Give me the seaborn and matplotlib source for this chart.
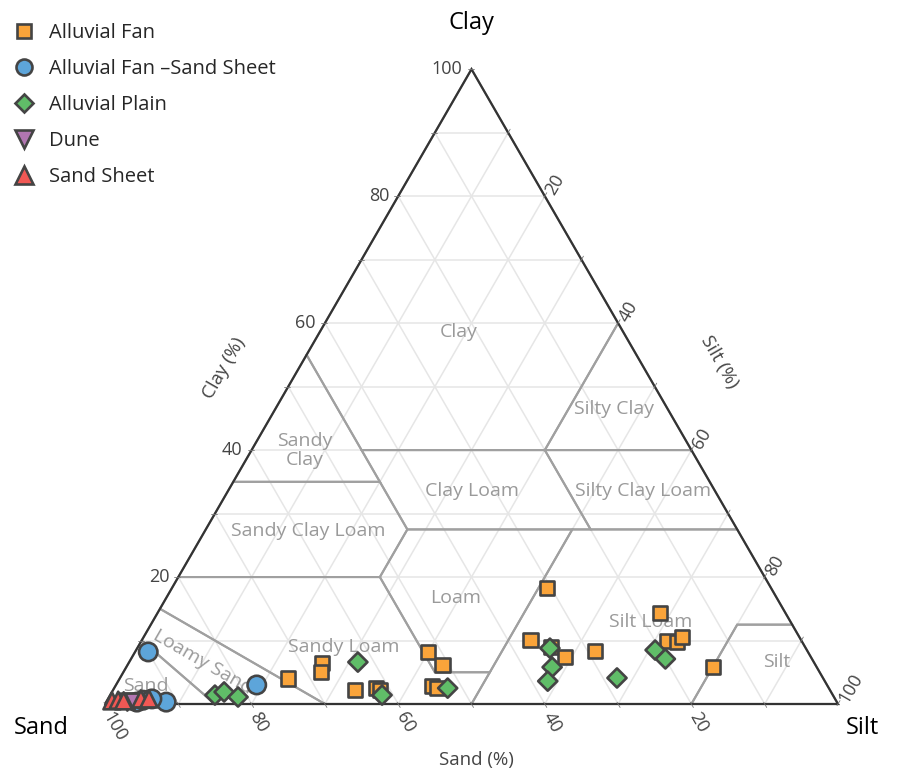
import numpy as np
import pandas as pd
import matplotlib
matplotlib.use("Agg")
import matplotlib.pyplot as plt
from matplotlib.lines import Line2D
import seaborn as sns

# ---- sample compositions (percent sand / silt / clay) ----
fan_sand = [73.0, 67.1, 68.0, 64.8, 61.8, 61.4, 51.8, 50.9, 54.0, 53.5,
            30.5, 36.9, 34.7, 33.5, 29.0, 17.1, 18.3, 17.1, 16.0, 14.2]
fan_silt = [23.0, 26.4, 27.0, 33.0, 35.7, 36.4, 40.0, 43.0, 43.2, 44.0,
            51.2, 53.0, 56.3, 59.1, 62.7, 68.6, 71.8, 73.1, 73.5, 80.0]
fan_clay = [4.0, 6.5, 5.0, 2.2, 2.5, 2.2, 8.2, 6.1, 2.8, 2.5,
            18.3, 10.1, 9.0, 7.4, 8.3, 14.3, 9.9, 9.8, 10.5, 5.8]

fanss_sand = [90.0, 77.8, 91.5, 95.5, 94.5, 93.2]
fanss_silt = [1.8, 19.2, 8.2, 4.2, 4.9, 6.0]
fanss_clay = [8.2, 3.0, 0.3, 0.3, 0.6, 0.8]

plain_sand = [84.3, 82.8, 81.3, 62.2, 61.5, 52.0, 34.9, 36.1, 37.8, 28.1, 20.7, 20.0]
plain_silt = [14.3, 15.3, 17.6, 31.2, 37.1, 45.5, 56.3, 58.1, 58.6, 67.8, 70.8, 72.9]
plain_clay = [1.4, 1.9, 1.1, 6.6, 1.4, 2.5, 8.8, 5.8, 3.6, 4.1, 8.5, 7.1]

dune_sand = [96.8, 95.9]
dune_silt = [2.9, 3.8]
dune_clay = [0.3, 0.3]

sheet_sand = [98.8, 97.9, 97.2, 94.7, 93.6]
sheet_silt = [0.7, 1.5, 2.3, 4.5, 5.6]
sheet_clay = [0.5, 0.6, 0.5, 0.8, 0.8]

groups = ["Alluvial Fan", "Alluvial Fan \u2013Sand Sheet", "Alluvial Plain", "Dune", "Sand Sheet"]
group_data = [
    (fan_sand, fan_silt, fan_clay),
    (fanss_sand, fanss_silt, fanss_clay),
    (plain_sand, plain_silt, plain_clay),
    (dune_sand, dune_silt, dune_clay),
    (sheet_sand, sheet_silt, sheet_clay),
]

# USDA soil texture classes, vertices as (sand, silt, clay)
soil_classes = {
    "Clay": [(45, 0, 55), (0, 0, 100), (0, 40, 60), (20, 40, 40), (45, 15, 40)],
    "Sandy Clay": [(65, 0, 35), (45, 0, 55), (45, 15, 40), (45, 20, 35)],
    "Silty Clay": [(0, 40, 60), (0, 60, 40), (20, 40, 40)],
    "Clay Loam": [(45, 15, 40), (20, 40, 40), (20, 52.5, 27.5), (45, 27.5, 27.5)],
    "Silty Clay Loam": [(20, 40, 40), (0, 60, 40), (0, 72.5, 27.5), (20, 52.5, 27.5)],
    "Sandy Clay Loam": [(80, 0, 20), (65, 0, 35), (45, 20, 35), (45, 27.5, 27.5), (52.5, 27.5, 20)],
    "Loam": [(52.5, 27.5, 20), (45, 27.5, 27.5), (22.5, 50, 27.5), (45, 50, 5), (52.5, 42.5, 5)],
    "Silt Loam": [(50, 50, 0), (45, 50, 5), (22.5, 50, 27.5), (0, 72.5, 27.5), (0, 87.5, 12.5),
                  (7.5, 80, 12.5), (20, 80, 0)],
    "Silt": [(20, 80, 0), (7.5, 80, 12.5), (0, 87.5, 12.5), (0, 100, 0)],
    "Sandy Loam": [(85, 0, 15), (80, 0, 20), (52.5, 27.5, 20), (52.5, 42.5, 5), (45, 50, 5),
                   (50, 50, 0), (70, 30, 0)],
    "Loamy Sand": [(90, 0, 10), (85, 0, 15), (70, 30, 0), (85, 15, 0)],
    "Sand": [(100, 0, 0), (90, 0, 10), (85, 15, 0)],
}

# where each class name is written (sand, silt, clay) and its rotation
class_label_pos = {
    "Clay": ((22.4, 19.0, 58.6), 0),
    "Sandy\nClay": ((52.8, 7.3, 39.9), 0),
    "Silty Clay": ((7.4, 46.2, 46.4), 0),
    "Clay Loam": ((33.2, 33.3, 33.5), 0),
    "Silty Clay Loam": ((9.8, 56.7, 33.5), 0),
    "Sandy Clay Loam": ((58.7, 14.1, 27.2), 0),
    "Loam": ((43.8, 39.5, 16.7), 0),
    "Silt Loam": ((19.1, 68.0, 12.9), 0),
    "Sandy Loam": ((62.9, 28.1, 9.0), 0),
    "Loamy Sand": ((83.3, 10.1, 6.6), -30),
    "Sand": ((93.0, 4.2, 2.8), 0),
    "Silt": ((5.0, 88.4, 6.6), 0),
}

tick_values = [20, 40, 60, 80, 100]

palette = {
    "Alluvial Fan": "#FAA43A",
    "Alluvial Fan \u2013Sand Sheet": "#5DA5DA",
    "Alluvial Plain": "#60BD68",
    "Dune": "#B276B2",
    "Sand Sheet": "#F15854",
}
markers = {
    "Alluvial Fan": "s",
    "Alluvial Fan \u2013Sand Sheet": "o",
    "Alluvial Plain": "D",
    "Dune": "v",
    "Sand Sheet": "^",
}
sizes = {
    "Alluvial Fan": 105,
    "Alluvial Fan \u2013Sand Sheet": 175,
    "Alluvial Plain": 95,
    "Dune": 150,
    "Sand Sheet": 150,
}
legend_ms = {
    "Alluvial Fan": 10,
    "Alluvial Fan \u2013Sand Sheet": 11.5,
    "Alluvial Plain": 9.5,
    "Dune": 12.5,
    "Sand Sheet": 12.5,
}


def txy(sand, silt, clay):
    s = np.asarray(sand, float)
    b = np.asarray(silt, float)
    c = np.asarray(clay, float)
    t = s + b + c
    return (b + c / 2) / t, (c * np.sqrt(3) / 2) / t


sns.set_style("white")
plt.rcParams["font.family"] = ["Open Sans", "DejaVu Sans"]

W, H = 909, 772
X0, Y0, SIDE = 105, 704, 733     # triangle base-left corner and side length, pixels
PX = 1.0 / SIDE

fig = plt.figure(figsize=(W / 100, H / 100), dpi=100)
ax = fig.add_axes([0, 0, 1, 1])

GRID = "#e6e6e6"
EDGE = "#333333"
CLASS = "#a0a0a0"
TICKC = "#444444"

# light grid every 10 %
for v in range(10, 100, 10):
    for p, q in [((100 - v, 0, v), (0, 100 - v, v)),
                 ((100 - v, v, 0), (0, v, 100 - v)),
                 ((v, 100 - v, 0), (v, 0, 100 - v))]:
        xs, ys = txy([p[0], q[0]], [p[1], q[1]], [p[2], q[2]])
        ax.plot(xs, ys, color=GRID, lw=1.1, zorder=1, solid_capstyle="butt")

# texture class boundaries
for name, verts in soil_classes.items():
    vs = verts + [verts[0]]
    xs, ys = txy([v[0] for v in vs], [v[1] for v in vs], [v[2] for v in vs])
    ax.plot(xs, ys, color=CLASS, lw=1.5, zorder=2, solid_joinstyle="miter")

for name, (pos, rot) in class_label_pos.items():
    x, y = txy(*pos)
    ax.text(x, y, name, color="#9a9a9a", fontsize=14, ha="center", va="center",
            rotation=rot, zorder=2.5, linespacing=1.1)

# triangle outline
xs, ys = txy([100, 0, 0, 100], [0, 100, 0, 0], [0, 0, 100, 0])
ax.plot(xs, ys, color=EDGE, lw=1.6, zorder=3, solid_joinstyle="miter")

# small tick marks every 10 %, labels every 20 %
r3 = np.sqrt(3) / 2
for v in range(10, 101, 10):
    for p, d in [((100 - v, 0, v), (-1.0, 0.0)),
                 ((0, v, 100 - v), (0.5, r3)),
                 ((v, 100 - v, 0), (0.5, -r3))]:
        x, y = txy(*p)
        ax.plot([x - d[0] * 2 * PX, x + d[0] * 4 * PX], [y - d[1] * 2 * PX, y + d[1] * 4 * PX],
                color="#777777", lw=0.6, zorder=3)

for v in tick_values:
    x, y = txy(100 - v, 0, v)
    ax.text(x - 9 * PX, y, str(v), fontsize=13, color=TICKC, ha="right", va="center")
    x, y = txy(0, v, 100 - v)
    ax.text(x + 6 * r3 * PX, y + 6 * 0.5 * PX, str(v), fontsize=13, color=TICKC,
            ha="left", va="center", rotation=60, rotation_mode="anchor")
    x, y = txy(v, 100 - v, 0)
    ax.text(x + 2 * PX, y - 9 * PX, str(v), fontsize=13, color=TICKC,
            ha="left", va="center", rotation=-60, rotation_mode="anchor")

# axis titles
ax.text((224 - X0) * PX, (Y0 - 368) * PX, "Clay (%)", fontsize=13.5, color=TICKC,
        rotation=60, ha="center", va="center")
ax.text((719 - X0) * PX, (Y0 - 362) * PX, "Silt (%)", fontsize=13.5, color=TICKC,
        rotation=-60, ha="center", va="center")
ax.text((476 - X0) * PX, (Y0 - 760) * PX, "Sand (%)", fontsize=13.5, color=TICKC,
        ha="center", va="center")

# corner names
ax.text(0.5, (Y0 - 23) * PX, "Clay", fontsize=17, color="black", ha="center", va="center")
ax.text((41 - X0) * PX, (Y0 - 728) * PX, "Sand", fontsize=17, color="black", ha="center", va="center")
ax.text((862 - X0) * PX, (Y0 - 728) * PX, "Silt", fontsize=17, color="black", ha="center", va="center")

# samples
rows = []
for g, (sa, si, cl) in zip(groups, group_data):
    for a, b, c in zip(sa, si, cl):
        rows.append({"group": g, "sand": a, "silt": b, "clay": c})
df = pd.DataFrame(rows)
df["x"], df["y"] = txy(df["sand"], df["silt"], df["clay"])

sns.scatterplot(data=df, x="x", y="y", hue="group", style="group", size="group",
                palette=palette, markers=markers, sizes=sizes,
                hue_order=groups, style_order=groups, size_order=groups,
                edgecolor="#444444", linewidth=1.9, alpha=1, legend=False, ax=ax, zorder=4)

handles = [Line2D([], [], linestyle="none", marker=markers[g], markersize=legend_ms[g],
                  markerfacecolor=palette[g], markeredgecolor="#444444", markeredgewidth=1.9,
                  label=g) for g in groups]
ax.legend(handles=handles, loc="upper left", bbox_to_anchor=(15 / W, 1 - 23 / H),
          bbox_transform=fig.transFigure, frameon=False, fontsize=14.5,
          handlelength=0.9, handletextpad=0.8, labelspacing=0.8,
          borderaxespad=0, borderpad=0)

ax.set_xlim(-X0 * PX, (W - X0) * PX)
ax.set_ylim(-(H - Y0) * PX, Y0 * PX)
ax.axis("off")

fig.savefig("out.png", dpi=100)
